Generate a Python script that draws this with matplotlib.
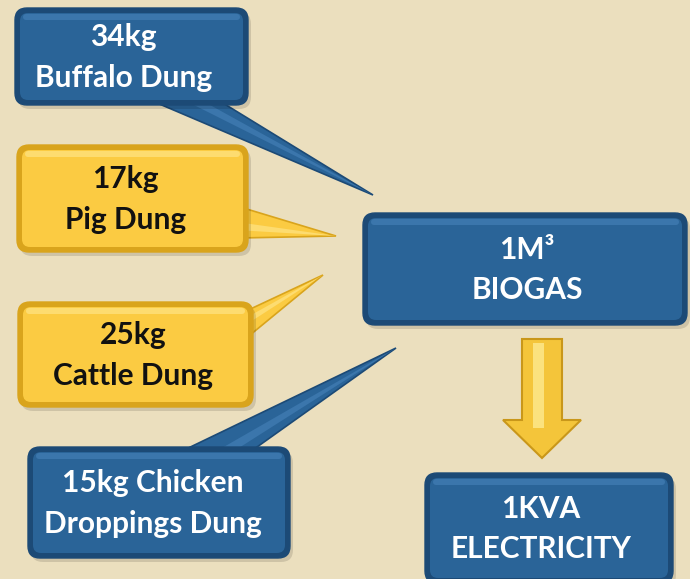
import matplotlib.pyplot as plt
from matplotlib.patches import FancyBboxPatch, Polygon

# box texts
source_labels = ["34kg\nBuffalo Dung", "17kg\nPig Dung", "25kg\nCattle Dung",
                 "15kg Chicken\nDroppings Dung"]
source_kinds = ["blue", "yellow", "yellow", "blue"]
biogas_label = "1M\u00b3\nBIOGAS"
power_label = "1KVA\nELECTRICITY"

BG = "#ebdfbe"
COLORS = {
    "blue": dict(edge="#1c4a76", fill="#2a6498", light="#3b76ac", text="white"),
    "yellow": dict(edge="#d9a41c", fill="#fbcb42", light="#fddc70", text="#111111"),
}

# layout (pixel coords, y down)
src_boxes = [(15, 8, 233, 97), (17, 145, 231, 107), (18, 302, 235, 105), (28, 447, 262, 111)]
src_text_dx = [-8, -7, -2, -6]
src_pointers = [
    [(150, 100), (218, 100), (373, 195)],
    [(240, 207), (240, 238), (336, 236)],
    [(244, 340), (244, 312), (323, 275)],
    [(180, 452), (250, 452), (396, 348)],
]
biogas_box = (363, 213, 324, 112)
power_box = (425, 473, 248, 110)

fig = plt.figure(figsize=(6.9, 5.79), dpi=100)
fig.patch.set_facecolor(BG)
ax = fig.add_axes([0, 0, 1, 1])
ax.set_xlim(0, 690)
ax.set_ylim(579, 0)
ax.axis("off")
ax.set_facecolor(BG)


def draw_box(x, y, w, h, kind, label, pointer=None, dx=0):
    c = COLORS[kind]
    if pointer is not None:
        ax.add_patch(Polygon(pointer, closed=True, facecolor=c["fill"],
                             edgecolor=c["edge"], lw=1.2, zorder=1))
        # bevel highlight along the pointer
        (x0, y0), (x1, y1), tip = pointer
        mid = ((x0 + x1) / 2, (y0 + y1) / 2)
        ax.add_patch(Polygon([mid, ((mid[0] + x1) / 2, (mid[1] + y1) / 2), tip],
                             closed=True, facecolor=c["light"], lw=0, zorder=1.5))
    # shadow
    ax.add_patch(FancyBboxPatch((x + 3, y + 4), w, h,
                                boxstyle="round,pad=0,rounding_size=12",
                                facecolor="#000000", alpha=0.12, lw=0, zorder=1.8))
    ax.add_patch(FancyBboxPatch((x, y), w, h, boxstyle="round,pad=0,rounding_size=12",
                                facecolor=c["edge"], edgecolor=c["edge"], lw=1, zorder=2))
    ax.add_patch(FancyBboxPatch((x + 5, y + 5), w - 10, h - 10,
                                boxstyle="round,pad=0,rounding_size=8",
                                facecolor=c["fill"], edgecolor="none", zorder=3))
    ax.add_patch(FancyBboxPatch((x + 8, y + 6), w - 16, 6,
                                boxstyle="round,pad=0,rounding_size=3",
                                facecolor=c["light"], edgecolor="none", zorder=3.5))
    ax.text(x + w / 2 + dx, y + h / 2 + 1, label, ha="center", va="center",
            color=c["text"], fontsize=21.5, fontweight="bold", family="Lato",
            linespacing=1.55, zorder=5)


for (x, y, w, h), kind, lab, ptr, dx in zip(src_boxes, source_kinds, source_labels,
                                            src_pointers, src_text_dx):
    draw_box(x, y, w, h, kind, lab, ptr, dx)

draw_box(*biogas_box, "blue", biogas_label, dx=2)
draw_box(*power_box, "blue", power_label, dx=-8)

# down arrow
cx = 542
arrow = [(cx - 20, 339), (cx + 20, 339), (cx + 20, 420), (cx + 39, 420),
         (cx, 458), (cx - 39, 420), (cx - 20, 420)]
ax.add_patch(Polygon(arrow, closed=True, facecolor="#f4c53a", edgecolor="#c9971a",
                     lw=1.5, zorder=2))
ax.add_patch(Polygon([(cx - 9, 343), (cx + 2, 343), (cx + 2, 428), (cx - 9, 428)],
                     closed=True, facecolor="#fbe27e", lw=0, zorder=3))

fig.savefig("out.png", dpi=100, facecolor=BG)
